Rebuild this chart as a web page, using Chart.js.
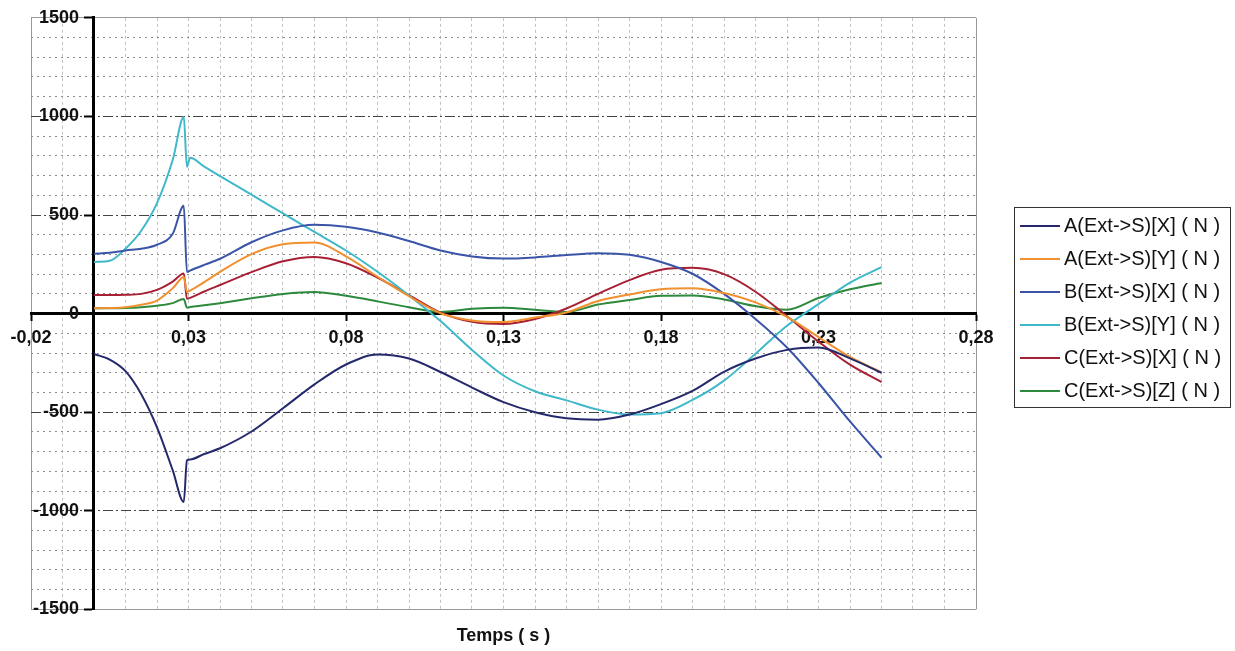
<!DOCTYPE html>
<html>
<head>
<meta charset="utf-8">
<script src="https://cdn.jsdelivr.net/npm/chart.js@4.4.0/dist/chart.umd.min.js"></script>
<style>
    html, body { margin: 0; padding: 0; background: #fff; }
    #wrap { position: relative; width: 1235px; height: 651px; }
    #legend {
        position: absolute; left: 1014px; top: 207px; width: 217px; height: 201px;
        box-sizing: border-box; border: 1px solid #333; padding-top: 1px;
        font-family: 'Liberation Sans', Arial, sans-serif; font-size: 20px; color: #111;
    }
    .item { display: flex; align-items: center; height: 33px; white-space: nowrap; }
    .swatch { width: 40px; height: 2px; margin: 0 4px 0 5px; }
</style>
</head>
<body>
<div id="wrap">
    <canvas id="chart" width="1235" height="651"></canvas>
    <div id="legend"></div>
</div>
<script>
// Time samples (s)
const times = [0, 0.005, 0.01, 0.015, 0.02, 0.025, 0.0285, 0.0295, 0.0305, 0.035, 0.04,
    0.05, 0.06, 0.07, 0.08, 0.09, 0.10, 0.11, 0.12, 0.13, 0.14, 0.15, 0.16, 0.17, 0.18,
    0.19, 0.20, 0.21, 0.22, 0.23, 0.24, 0.25];

const seriesNames = ['A(Ext->S)[X] ( N )', 'A(Ext->S)[Y] ( N )', 'B(Ext->S)[X] ( N )',
    'B(Ext->S)[Y] ( N )', 'C(Ext->S)[X] ( N )', 'C(Ext->S)[Z] ( N )'];

// Forces (N)
const aX = [-205, -233, -292, -409, -577, -795, -955, -745, -740, -712, -683, -598, -480, -359,
    -258, -208, -228, -296, -375, -449, -500, -531, -538, -512, -459, -392, -295, -228, -184, -172, -227, -300];
const aY = [27, 28, 32, 45, 66, 128, 186, 110, 117, 160, 212, 302, 352, 360, 290, 187, 88, 2,
    -35, -43, -20, 6, 64, 97, 124, 128, 104, 57, -17, -119, -220, -298];
const bX = [304, 308, 320, 329, 349, 405, 547, 211, 218, 247, 278, 362, 422, 450, 440, 411, 368,
    320, 290, 279, 285, 297, 306, 298, 262, 202, 100, -27, -172, -352, -547, -730];
const bY = [262, 268, 329, 420, 560, 780, 997, 745, 790, 745, 697, 603, 508, 414, 320, 212, 92,
    -38, -184, -314, -394, -440, -487, -512, -505, -438, -340, -204, -62, 48, 157, 236];
const cX = [94, 94, 95, 100, 120, 162, 203, 75, 80, 112, 145, 210, 265, 287, 255, 182, 94, 5,
    -42, -53, -27, 26, 100, 170, 222, 232, 200, 111, -13, -142, -259, -347];
const cZ = [27, 27, 28, 32, 40, 53, 74, 30, 33, 42, 53, 78, 100, 110, 90, 62, 32, 8, 24, 30,
    20, 8, 46, 69, 90, 92, 72, 38, 20, 79, 123, 155];

const seriesValues = [aX, aY, bX, bY, cX, cZ];
const seriesColors = ['#25296b', '#f0902e', '#3a55a8', '#3fb9c9', '#a82035', '#2d8a3c'];

const fontFamily = "'Liberation Sans', Arial, sans-serif";

const datasets = seriesNames.map((name, i) => ({
    label: name,
    data: times.map((t, j) => ({ x: t, y: seriesValues[i][j] })),
    borderColor: seriesColors[i],
    backgroundColor: seriesColors[i],
    borderWidth: 2,
    pointRadius: 0,
    cubicInterpolationMode: 'monotone',
    fill: false
}));

const chart = new Chart(document.getElementById('chart'), {
    type: 'line',
    data: { datasets },
    options: {
        responsive: false,
        animation: false,
        layout: { padding: { left: 31, top: 15, right: 259, bottom: 0 } },
        plugins: {
            legend: { display: false },
            tooltip: { enabled: false },
            title: {
                display: true,
                text: 'Temps ( s )',
                position: 'bottom',
                fullSize: false,
                color: '#111',
                font: { family: fontFamily, size: 18, weight: 'bold' },
                padding: { top: 16, bottom: 4 }
            }
        },
        scales: {
            x: {
                type: 'linear',
                min: -0.02,
                max: 0.28,
                position: { y: 0 },
                afterFit: scale => { scale.height = 0; },
                ticks: {
                    stepSize: 0.01,
                    autoSkip: false,
                    maxRotation: 0,
                    padding: 8,
                    color: '#111',
                    font: { family: fontFamily, size: 18, weight: 'bold' },
                    callback: (value, index) => index % 5 === 0 ? value.toFixed(2).replace('.', ',') : ''
                },
                grid: {
                    color: ctx => {
                        if (ctx.index === 0 || ctx.index === 30) return '#999';
                        if (ctx.index === 2) return 'transparent';
                        return '#c2c2c2';
                    },
                    tickLength: 6,
                    tickWidth: 2,
                    tickColor: ctx => ctx.index % 5 === 0 ? '#000' : 'transparent'
                },
                border: {
                    color: '#000',
                    width: 3,
                    dash: ctx => (ctx.type === 'tick' && ctx.index !== 0 && ctx.index !== 30) ? [3, 3] : []
                }
            },
            y: {
                type: 'linear',
                min: -1500,
                max: 1500,
                position: { x: 0 },
                afterFit: scale => { scale.width = 0; },
                ticks: {
                    stepSize: 100,
                    autoSkip: false,
                    padding: 7,
                    color: '#111',
                    font: { family: fontFamily, size: 18, weight: 'bold' },
                    // trailing spaces keep the labels clear of the axis line
                    callback: value => value % 500 === 0 ? value + '   ' : ''
                },
                grid: {
                    color: ctx => {
                        const v = ctx.tick.value;
                        if (Math.abs(v) === 1500) return '#999';
                        if (v === 0) return 'transparent';
                        return v % 500 === 0 ? '#444' : '#8c8c8c';
                    },
                    tickLength: 8,
                    tickWidth: 2,
                    tickColor: ctx => ctx.tick.value % 500 === 0 ? '#000' : 'transparent'
                },
                border: {
                    color: '#000',
                    width: 3,
                    dash: ctx => {
                        if (ctx.type !== 'tick') return [];
                        const v = ctx.tick.value;
                        if (Math.abs(v) === 1500) return [];
                        return v % 500 === 0 ? [10, 3, 2, 3] : [2, 4];
                    }
                }
            }
        }
    }
});

// Build the boxed legend beside the chart
const legendBox = document.getElementById('legend');
chart.data.datasets.forEach(ds => {
    const item = document.createElement('div');
    item.className = 'item';
    item.innerHTML = `<span class="swatch" style="background:${ds.borderColor}"></span><span></span>`;
    item.lastChild.textContent = ds.label;
    legendBox.appendChild(item);
});
</script>
</body>
</html>
